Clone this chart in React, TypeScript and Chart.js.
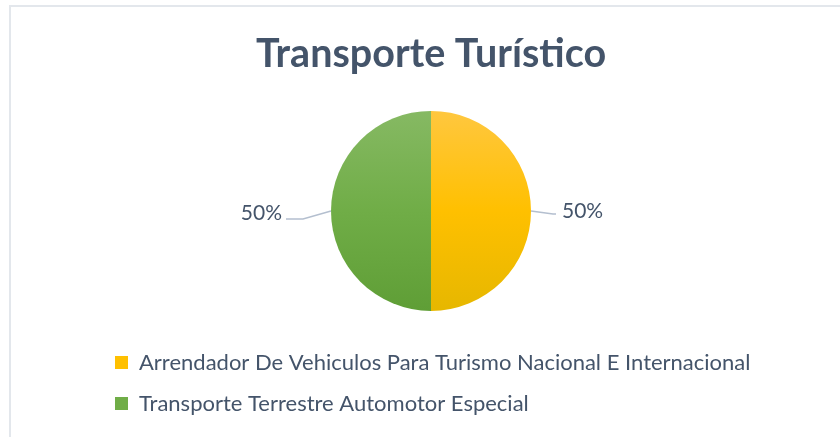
import React, { useEffect, useRef } from "react";
import { Chart, registerables } from "chart.js";

Chart.register(...registerables);

const TITLE = "Transporte Turístico";
const categories = [
  "Arrendador De Vehiculos Para Turismo Nacional E Internacional",
  "Transporte Terrestre Automotor Especial",
];
const values = [50, 50];
const percentLabels = ["50%", "50%"];
const baseColors = ["#FFC000", "#70AD47"];
const gradientStops = [
  ["#FFC73F", "#FFC000", "#E6B700"],
  ["#86B963", "#70AD47", "#5F9E36"],
];

const TEXT_COLOR = "#44546A";
const FONT = "Lato, 'Open Sans', sans-serif";
const RADIUS = 100;

const labelPlugin = {
  id: "leaderLabels",
  afterDatasetsDraw(chart: any) {
    const meta = chart.getDatasetMeta(0);
    const ctx = chart.ctx;
    ctx.save();
    meta.data.forEach((arc: any, i: number) => {
      const { x, y, startAngle, endAngle, outerRadius } = arc.getProps(
        ["x", "y", "startAngle", "endAngle", "outerRadius"],
        true
      );
      const mid = (startAngle + endAngle) / 2;
      const ex = x + outerRadius * Math.cos(mid);
      const ey = y + outerRadius * Math.sin(mid);
      const right = Math.cos(mid) >= 0;
      const dir = right ? 1 : -1;
      const elbowX = ex + dir * (right ? 22 : 28);
      const elbowY = ey + (right ? 3 : 8);
      const endX = ex + dir * (right ? 25 : 45);
      ctx.strokeStyle = "#B4BFCF";
      ctx.lineWidth = 1.5;
      ctx.beginPath();
      ctx.moveTo(ex, ey);
      ctx.lineTo(elbowX, elbowY);
      ctx.lineTo(endX, elbowY);
      ctx.stroke();
      ctx.fillStyle = TEXT_COLOR;
      ctx.font = `21px ${FONT}`;
      ctx.textBaseline = "middle";
      ctx.textAlign = right ? "left" : "right";
      const tx = endX + dir * (right ? 6 : 4);
      const ty = ey + (right ? 0 : 2);
      ctx.fillText(percentLabels[i], tx, ty);
    });
    ctx.restore();
  },
};

export default function App() {
  const canvasRef = useRef<HTMLCanvasElement | null>(null);

  useEffect(() => {
    if (!canvasRef.current) return;
    const chart = new Chart(canvasRef.current, {
      type: "pie",
      data: {
        labels: categories,
        datasets: [
          {
            data: values,
            radius: RADIUS,
            borderWidth: 0,
            backgroundColor: (c: any) => {
              const area = c.chart.chartArea;
              const idx = c.dataIndex ?? 0;
              if (!area) return baseColors[idx];
              const cy = (area.top + area.bottom) / 2;
              const g = c.chart.ctx.createLinearGradient(0, cy - RADIUS, 0, cy + RADIUS);
              const s = gradientStops[idx];
              g.addColorStop(0, s[0]);
              g.addColorStop(0.5, s[1]);
              g.addColorStop(1, s[2]);
              return g;
            },
          },
        ],
      },
      options: {
        responsive: false,
        animation: false,
        layout: { padding: { left: 96, right: 74, top: 0, bottom: 12.5 } },
        plugins: {
          title: {
            display: true,
            text: TITLE,
            color: TEXT_COLOR,
            font: { family: FONT, size: 39.5, weight: "bold", lineHeight: 1.2 },
            padding: { top: 31, bottom: 11 },
          },
          legend: {
            display: true,
            position: "bottom",
            align: "start",
            labels: {
              boxWidth: 13,
              boxHeight: 13,
              padding: 19,
              color: TEXT_COLOR,
              font: { family: FONT, size: 22 },
              generateLabels: (ch: any) =>
                ch.data.labels.map((t: string, i: number) => ({
                  text: t,
                  fillStyle: baseColors[i],
                  strokeStyle: baseColors[i],
                  lineWidth: 0,
                  hidden: false,
                  index: i,
                  fontColor: TEXT_COLOR,
                })),
            },
          },
          tooltip: { enabled: false },
        },
      },
      plugins: [labelPlugin],
    });
    return () => chart.destroy();
  }, []);

  return (
    <div style={{ position: "absolute", left: 0, top: 0, width: 840, height: 437, background: "#fff", overflow: "hidden" }}>
      <div
        style={{
          position: "absolute",
          left: 9,
          top: 5,
          width: 900,
          height: 500,
          borderTop: "2px solid #E3E7EC",
          borderLeft: "2px solid #E3E7EC",
        }}
      />
      <canvas ref={canvasRef} width={840} height={437} style={{ position: "absolute", left: 0, top: 0 }} />
    </div>
  );
}
